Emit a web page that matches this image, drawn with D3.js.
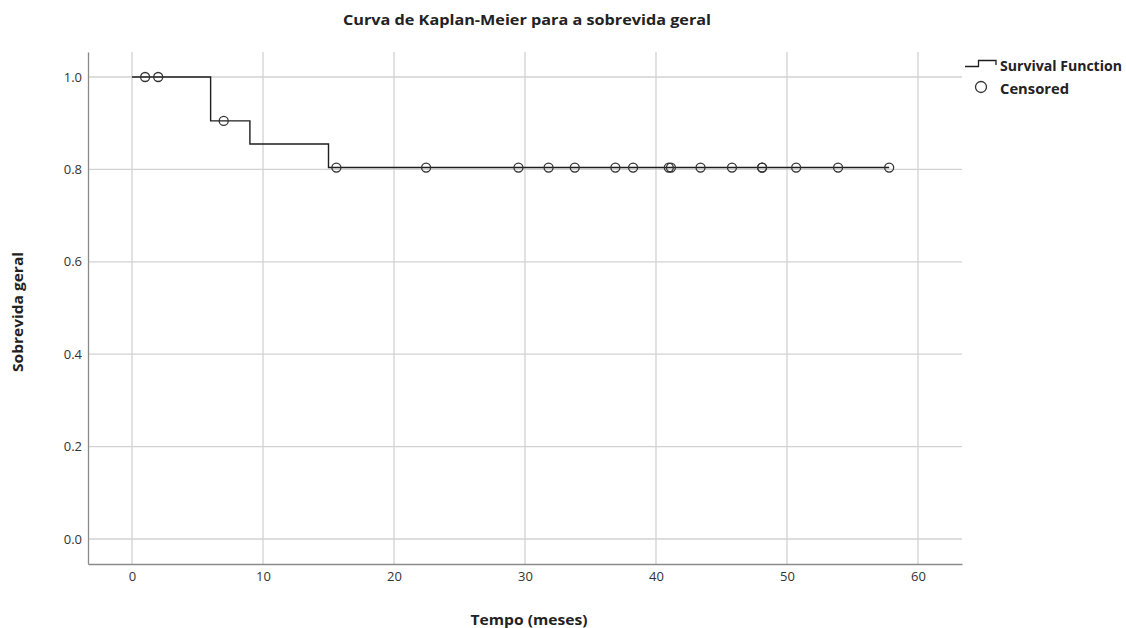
<!DOCTYPE html>
<html>
<head>
<meta charset="utf-8">
<script src="https://cdn.jsdelivr.net/npm/d3@7"></script>
<style>
  body { margin: 0; background: #fff; }
  svg text { font-family: "Open Sans", "Noto Sans", sans-serif; fill: #222; }
  .axis text { font-size: 13px; fill: #333; }
  .axis .domain { stroke: #8a8a8a; stroke-width: 1.3; }
  .grid line { stroke: #d2d2d2; stroke-width: 1.3; }
  .label { font-weight: bold; }
</style>
</head>
<body>
<div id="chart"></div>
<script>
// KM step curve: event times and survival after each drop
var eventTimes = [6, 9, 15],
    survival = [0.905, 0.855, 0.804],
    endTime = 57.8;

// censored observations (months)
var censoredTimes = [1.0, 2.0, 7.0, 15.6, 22.45, 29.5, 31.8, 33.8, 36.9, 38.25,
                     40.98, 41.14, 43.4, 45.8, 48.1, 48.1, 50.7, 53.9, 57.8];

var xTicks = [0, 10, 20, 30, 40, 50, 60],
    yTicks = [0, 0.2, 0.4, 0.6, 0.8, 1.0];

var width = 1126, height = 628;

var x = d3.scaleLinear()
    .domain([-3.36, 63.36])
    .range([88, 962]);

var y = d3.scaleLinear()
    .domain([-0.0541, 1.0541])
    .range([564, 52]);

var svg = d3.select("#chart").append("svg")
    .attr("width", width)
    .attr("height", height);

// grid
svg.append("g")
    .attr("class", "grid")
  .selectAll("line")
    .data(xTicks)
  .enter().append("line")
    .attr("x1", function(d) { return x(d); })
    .attr("x2", function(d) { return x(d); })
    .attr("y1", y.range()[1])
    .attr("y2", y.range()[0]);

svg.append("g")
    .attr("class", "grid")
  .selectAll("line")
    .data(yTicks)
  .enter().append("line")
    .attr("x1", x.range()[0])
    .attr("x2", x.range()[1])
    .attr("y1", function(d) { return y(d); })
    .attr("y2", function(d) { return y(d); });

// axes
svg.append("g")
    .attr("class", "axis axis-x")
    .attr("transform", "translate(0," + y.range()[0] + ")")
    .call(d3.axisBottom(x).tickValues(xTicks).tickSize(0).tickPadding(8).tickFormat(d3.format("d")));

svg.append("g")
    .attr("class", "axis axis-y")
    .attr("transform", "translate(" + x.range()[0] + ",0)")
    .call(d3.axisLeft(y).tickValues(yTicks).tickSize(0).tickPadding(6).tickFormat(d3.format(".1f")));

// step curve
var steps = [{t: 0, s: 1}];
eventTimes.forEach(function(t, i) { steps.push({t: t, s: survival[i]}); });
steps.push({t: endTime, s: survival[survival.length - 1]});

var line = d3.line()
    .x(function(d) { return x(d.t); })
    .y(function(d) { return y(d.s); })
    .curve(d3.curveStepAfter);

svg.append("path")
    .datum(steps)
    .attr("fill", "none")
    .attr("stroke", "#1e1e1e")
    .attr("stroke-width", 1.4)
    .attr("d", line);

function survAt(t) {
  var s = 1;
  eventTimes.forEach(function(e, i) { if (t >= e) s = survival[i]; });
  return s;
}

svg.append("g").selectAll("circle")
    .data(censoredTimes)
  .enter().append("circle")
    .attr("cx", function(d) { return x(d); })
    .attr("cy", function(d) { return y(survAt(d)); })
    .attr("r", 4.5)
    .attr("fill", "none")
    .attr("stroke", "#333")
    .attr("stroke-width", 1.3);

// titles (reference font is wider, so stretch to its width)
function label(xp, yp, size, len, txt) {
  return svg.append("text")
      .attr("class", "label")
      .attr("x", xp)
      .attr("y", yp)
      .attr("textLength", len)
      .attr("lengthAdjust", "spacingAndGlyphs")
      .style("font-size", size + "px")
      .text(txt);
}

label(527, 25, 14, 368, "Curva de Kaplan-Meier para a sobrevida geral").attr("text-anchor", "middle");
label(529, 625, 13.5, 117, "Tempo (meses)").attr("text-anchor", "middle");
label(0, 0, 13.5, 120, "Sobrevida geral")
    .attr("text-anchor", "middle")
    .attr("transform", "translate(23,312) rotate(-90)");

// legend
svg.append("path")
    .attr("d", "M965,66.5H978.5V60.5H996V65")
    .attr("fill", "none")
    .attr("stroke", "#1e1e1e")
    .attr("stroke-width", 1.3);
label(1000, 71, 13.5, 122, "Survival Function");
svg.append("circle")
    .attr("cx", 981)
    .attr("cy", 87)
    .attr("r", 5.5)
    .attr("fill", "none")
    .attr("stroke", "#333")
    .attr("stroke-width", 1.3);
label(1000, 94, 13.5, 69, "Censored");
</script>
</body>
</html>
